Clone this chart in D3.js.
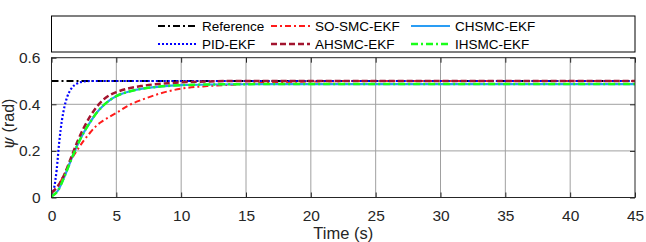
<!DOCTYPE html>
<html><head><meta charset="utf-8">
<script src="https://cdn.jsdelivr.net/npm/d3@7"></script>
<style>
html,body{margin:0;padding:0;background:#fff;}
svg{display:block;font-family:"Liberation Sans",Arial,Helvetica,sans-serif;}
</style></head>
<body>
<svg id="chart" width="646" height="242"></svg>
<script>
// ---- data ----
const timeCommon = [0,0.5,1,1.5,2,2.5,3,3.5,4,4.5,5,6,7,8,9,10,12,14,17,20,25,30,35,40,45];
const timePID = [0,0.2,0.4,0.6,0.8,1.0,1.2,1.5,2.0,2.5,3,5,10,20,30,45];
const reference = [0.5,0.5,0.5,0.5,0.5,0.5,0.5,0.5,0.5,0.5,0.5,0.5,0.5,0.5,0.5,0.5,0.5,0.5,0.5,0.5,0.5,0.5,0.5,0.5,0.5];
const pidEKF = [0.01,0.04,0.12,0.24,0.33,0.39,0.43,0.465,0.49,0.498,0.5,0.5,0.5,0.5,0.5,0.5];
const soSMC = [0.02,0.05,0.1,0.16,0.205,0.245,0.28,0.31,0.33,0.347,0.363,0.397,0.42,0.44,0.456,0.467,0.478,0.484,0.494,0.498,0.5,0.5,0.5,0.5,0.5];
const ahSMC = [0.02,0.05,0.1,0.17,0.24,0.3,0.35,0.39,0.42,0.44,0.452,0.469,0.479,0.486,0.49,0.494,0.498,0.5,0.5,0.5,0.5,0.5,0.5,0.5,0.5];
const chSMC = [0.005,0.03,0.09,0.16,0.225,0.28,0.325,0.365,0.395,0.418,0.435,0.455,0.467,0.474,0.479,0.482,0.485,0.486,0.487,0.487,0.487,0.487,0.487,0.487,0.487];
const ihSMC = [0.005,0.03,0.09,0.16,0.225,0.28,0.325,0.365,0.395,0.418,0.435,0.455,0.467,0.474,0.479,0.482,0.485,0.486,0.487,0.487,0.487,0.487,0.487,0.487,0.487];
const xTicks = [0,5,10,15,20,25,30,35,40,45];
const yTicks = [0,0.2,0.4,0.6];
const yTickLabels = ["0","0.2","0.4","0.6"];
const legendNames = ["Reference","SO-SMC-EKF","CHSMC-EKF","PID-EKF","AHSMC-EKF","IHSMC-EKF"];

// ---- layout ----
const svg = d3.select("#chart");
const L = 51.5, R = 635, T = 57.7, B = 197.5;
const x = d3.scaleLinear().domain([0,45]).range([L,R]);
const y = d3.scaleLinear().domain([0,0.6]).range([B,T]);

// grid
const grid = svg.append("g").attr("stroke","#a0a0a0").attr("stroke-width",1);
xTicks.slice(1,-1).forEach(t=>grid.append("line").attr("x1",x(t)).attr("x2",x(t)).attr("y1",T).attr("y2",B));
yTicks.slice(1,-1).forEach(t=>grid.append("line").attr("y1",y(t)).attr("y2",y(t)).attr("x1",L).attr("x2",R));

// axes
const fs = 15.5;
const xAxB = svg.append("g").attr("transform",`translate(0,${B})`)
  .call(d3.axisBottom(x).tickValues(xTicks).tickSizeInner(-5).tickSizeOuter(0).tickPadding(12));
const xAxT = svg.append("g").attr("transform",`translate(0,${T})`)
  .call(d3.axisTop(x).tickValues(xTicks).tickSizeInner(-5).tickSizeOuter(0).tickFormat(""));
const yAxL = svg.append("g").attr("transform",`translate(${L},0)`)
  .call(d3.axisLeft(y).tickValues(yTicks).tickFormat((d,i)=>yTickLabels[i]).tickSizeInner(-5).tickSizeOuter(0).tickPadding(11));
const yAxR = svg.append("g").attr("transform",`translate(${R},0)`)
  .call(d3.axisRight(y).tickValues(yTicks).tickSizeInner(-5).tickSizeOuter(0).tickFormat(""));
[xAxB,xAxT,yAxL,yAxR].forEach(g=>{
  g.selectAll("path").remove();
  g.selectAll("line").attr("stroke","#262626");
  g.selectAll("text").attr("font-size",fs).attr("fill","#262626").attr("font-family","Liberation Sans, Arial, sans-serif");
});

// curves
const clipId = "clipP";
svg.append("clipPath").attr("id",clipId).append("rect").attr("x",L).attr("y",T-3).attr("width",R-L).attr("height",B-T+3);
const line = d3.line().x(d=>x(d[0])).y(d=>y(d[1])).curve(d3.curveMonotoneX);
const zipT = (ts,vs)=>ts.map((t,i)=>[t,vs[i]]);
const series = [
  {name:legendNames[0], data:zipT(timeCommon,reference), color:"#000000", dash:"7,3,2,3", w:2},
  {name:legendNames[1], data:zipT(timeCommon,soSMC), color:"#ff1a1a", dash:"6,3,2,3", w:2},
  {name:legendNames[2], data:zipT(timeCommon,chSMC), color:"#2a9df4", dash:null, w:2.2},
  {name:legendNames[3], data:zipT(timePID,pidEKF), color:"#0000ff", dash:"2,2", w:2.2},
  {name:legendNames[4], data:zipT(timeCommon,ahSMC), color:"#a2142f", dash:"6,3", w:2.5},
  {name:legendNames[5], data:zipT(timeCommon,ihSMC), color:"#19ff19", dash:"7,3,2,3", w:2.5},
];
const cg = svg.append("g").attr("clip-path",`url(#${clipId})`);
series.forEach(s=>{
  cg.append("path").attr("d",line(s.data)).attr("fill","none").attr("stroke",s.color)
    .attr("stroke-width",s.w).attr("stroke-dasharray",s.dash);
});

// axes box
svg.append("rect").attr("x",L).attr("y",T).attr("width",R-L).attr("height",B-T)
  .attr("fill","none").attr("stroke","#262626").attr("stroke-width",1);

// axis labels
svg.append("text").attr("x",(L+R)/2).attr("y",239).attr("text-anchor","middle")
  .attr("font-size",16.5).attr("fill","#262626").text("Time (s)");
const yl = svg.append("text").attr("transform",`translate(14,124) rotate(-90)`).attr("text-anchor","middle")
  .attr("font-size",16).attr("fill","#262626");
yl.append("tspan").attr("font-family","DejaVu Serif, serif").attr("font-style","italic").text("ψ");
yl.append("tspan").text(" (rad)");

// legend
svg.append("rect").attr("x",51.5).attr("y",16).attr("width",635-51.5).attr("height",36)
  .attr("fill","#fff").attr("stroke","#000").attr("stroke-width",1);
const colX = [158,271,411];
const rowY = [26,44];
series.forEach((s,i)=>{
  const c = i%3, r = Math.floor(i/3);
  const g = svg.append("g");
  g.append("line").attr("x1",colX[c]).attr("x2",colX[c]+39).attr("y1",rowY[r]).attr("y2",rowY[r])
    .attr("stroke",s.color).attr("stroke-width",s.w).attr("stroke-dasharray",s.dash);
  g.append("text").attr("x",colX[c]+44).attr("y",rowY[r]).attr("dy","0.35em")
    .attr("font-size",13.5).attr("fill","#000").text(s.name);
});
</script>
</body></html>
